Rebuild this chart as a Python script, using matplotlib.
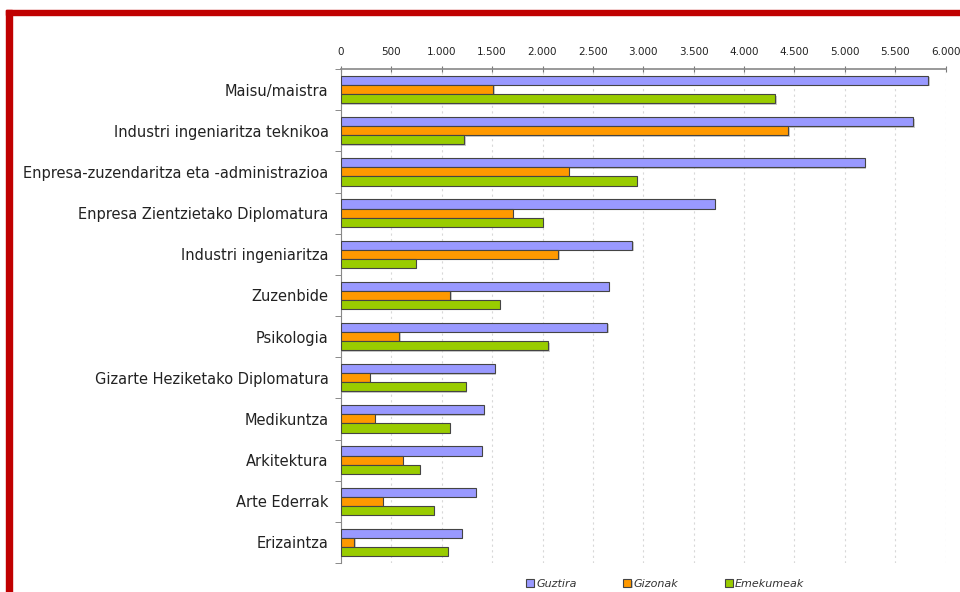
import numpy as np
import matplotlib
matplotlib.use('Agg')
import matplotlib.pyplot as plt
import matplotlib.patheffects as pe
from matplotlib.patches import Rectangle

categories = ['Maisu/maistra', 'Industri ingeniaritza teknikoa',
              'Enpresa-zuzendaritza eta -administrazioa',
              'Enpresa Zientzietako Diplomatura', 'Industri ingeniaritza',
              'Zuzenbide', 'Psikologia', 'Gizarte Heziketako Diplomatura',
              'Medikuntza', 'Arkitektura', 'Arte Ederrak', 'Erizaintza']
guztira = [5830, 5680, 5200, 3710, 2890, 2660, 2645, 1527, 1415, 1398, 1340, 1200]
gizonak = [1510, 4440, 2260, 1705, 2155, 1085, 578, 287, 333, 614, 415, 133]
emakumeak = [4310, 1225, 2935, 2000, 740, 1575, 2057, 1240, 1080, 782, 922, 1063]
series_names = ['Guztira', 'Gizonak', 'Emekumeak']
colors = ['#9999ff', '#ff9900', '#99cc00']
xticks = np.arange(0, 6001, 500)
xtick_labels = ['0', '500', '1.000', '1.500', '2.000', '2.500', '3.000',
                '3.500', '4.000', '4.500', '5.000', '5.500', '6.000']

fig = plt.figure(figsize=(9.6, 5.92), dpi=100)
ax = fig.add_axes([341 / 960, 1 - 563 / 592, 604.5 / 960, 494 / 592])

# red frame at top and left
fig.patches.append(Rectangle((6 / 960, 1 - 15 / 592), 1, 5 / 592,
                             transform=fig.transFigure, color='#c00000', zorder=0))
fig.patches.append(Rectangle((6 / 960, 0), 6 / 960, 1 - 10 / 592,
                             transform=fig.transFigure, color='#c00000', zorder=0))

n = len(categories)
y = np.arange(n)
h = 0.22
shadow = [pe.SimplePatchShadow(offset=(1, -1), shadow_rgbFace='#999999', alpha=0.5), pe.Normal()]
for i, (vals, c, name) in enumerate(zip([guztira, gizonak, emakumeak], colors, series_names)):
    bars = ax.barh(y + (i - 1) * h, vals, height=h, color=c, edgecolor='#444444',
                   linewidth=0.8, label=name, zorder=3)
    for b in bars:
        b.set_path_effects(shadow)

ax.set_xlim(0, 6000)
ax.set_ylim(n - 0.5, -0.5)
ax.xaxis.tick_top()
ax.set_xticks(xticks)
ax.set_xticklabels(xtick_labels, fontsize=7.5, color='#222222')
ax.tick_params(axis='x', direction='inout', length=5, color='#777777', pad=6)
ax.set_yticks(y)
ax.set_yticklabels(categories, fontsize=10.5, color='#222222')
ax.set_yticks(np.arange(n + 1) - 0.5, minor=True)
ax.tick_params(axis='y', which='major', length=0, pad=9)
ax.tick_params(axis='y', which='minor', length=4, color='#777777')
ax.grid(axis='x', color='#d8d8d8', linestyle=(0, (2, 3)), linewidth=0.8, zorder=0)

for s in ['right', 'bottom']:
    ax.spines[s].set_visible(False)
ax.spines['top'].set_color('#888888')
ax.spines['top'].set_linewidth(1.2)
ax.spines['left'].set_color('#888888')

leg = fig.legend(loc='lower center', bbox_to_anchor=(0.693, -0.012), ncol=3, frameon=False,
                 prop={'style': 'italic', 'size': 8},
                 handlelength=0.7, handleheight=0.7, handletextpad=0.2, columnspacing=4.2)
for t in leg.get_texts():
    t.set_color('#333333')

fig.savefig('out.png', dpi=100)
